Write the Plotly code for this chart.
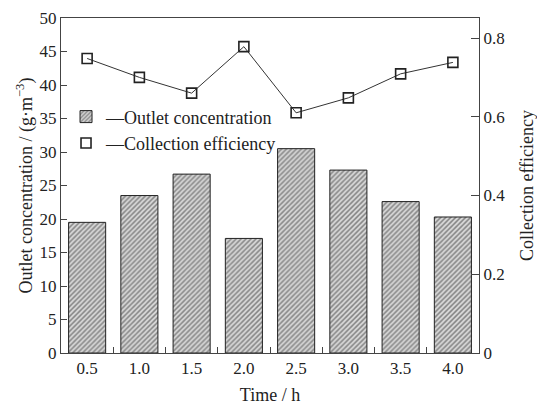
import plotly.graph_objects as go

times = ["0.5", "1.0", "1.5", "2.0", "2.5", "3.0", "3.5", "4.0"]
outlet_conc = [19.5, 23.5, 26.7, 17.1, 30.5, 27.3, 22.6, 20.3]
efficiency = [0.748, 0.700, 0.660, 0.778, 0.610, 0.648, 0.709, 0.738]
left_ticks = [0, 5, 10, 15, 20, 25, 30, 35, 40, 45, 50]
right_ticks = [0, 0.2, 0.4, 0.6, 0.8]
right_tick_text = ["0", "0.2", "0.4", "0.6", "0.8"]

FONT = "Liberation Serif"
fig = go.Figure()
fig.add_trace(go.Bar(
    x=times, y=outlet_conc, name="—Outlet concentration",
    marker=dict(color="white", line=dict(color="#222", width=1),
                pattern=dict(shape="/", size=3.5, solidity=0.45, fgcolor="#333", bgcolor="#d8d8d8")),
))
fig.add_trace(go.Scatter(
    x=times, y=efficiency, yaxis="y2", mode="lines", showlegend=False,
    line=dict(color="#333", width=1),
))
fig.add_trace(go.Scatter(
    x=times, y=efficiency, yaxis="y2", mode="markers", name="—Collection efficiency",
    marker=dict(symbol="square-open", size=10, color="#222", line=dict(width=1.6)),
))
fig.update_layout(
    width=537, height=405,
    margin=dict(l=61, r=58, t=18, b=52),
    paper_bgcolor="white", plot_bgcolor="white",
    font=dict(family=FONT, size=17, color="#222"),
    bargap=0.29,
    showlegend=True,
    legend=dict(x=0.012, y=0.76, xanchor="left", yanchor="top", bgcolor="rgba(0,0,0,0)",
                font=dict(size=18), tracegroupgap=0, itemwidth=30),
    xaxis=dict(type="category", range=[-0.5, 7.5], showline=True, linecolor="#444", linewidth=1,
               mirror=True, ticks="inside", tickson="boundaries", ticklen=6, tickcolor="#444",
               automargin=False,
               title=dict(text="Time / h", font=dict(size=18), standoff=10)),
    yaxis=dict(range=[0, 50], tickvals=left_ticks, showline=True, linecolor="#444", linewidth=1,
               ticks="inside", ticklen=6, tickcolor="#444", showgrid=False, zeroline=False,
               automargin=False,
               title=dict(text="Outlet concentration / (g·m<sup>−3</sup>)", font=dict(size=18), standoff=2)),
    yaxis2=dict(range=[0, 0.8508], overlaying="y", side="right", tickvals=right_ticks,
                ticktext=right_tick_text, showline=True, linecolor="#444", linewidth=1,
                ticks="inside", ticklen=8, tickcolor="#444", showgrid=False, zeroline=False,
                automargin=False,
                title=dict(text="Collection efficiency", font=dict(size=18), standoff=17)),
)
fig.write_html("out.html")
